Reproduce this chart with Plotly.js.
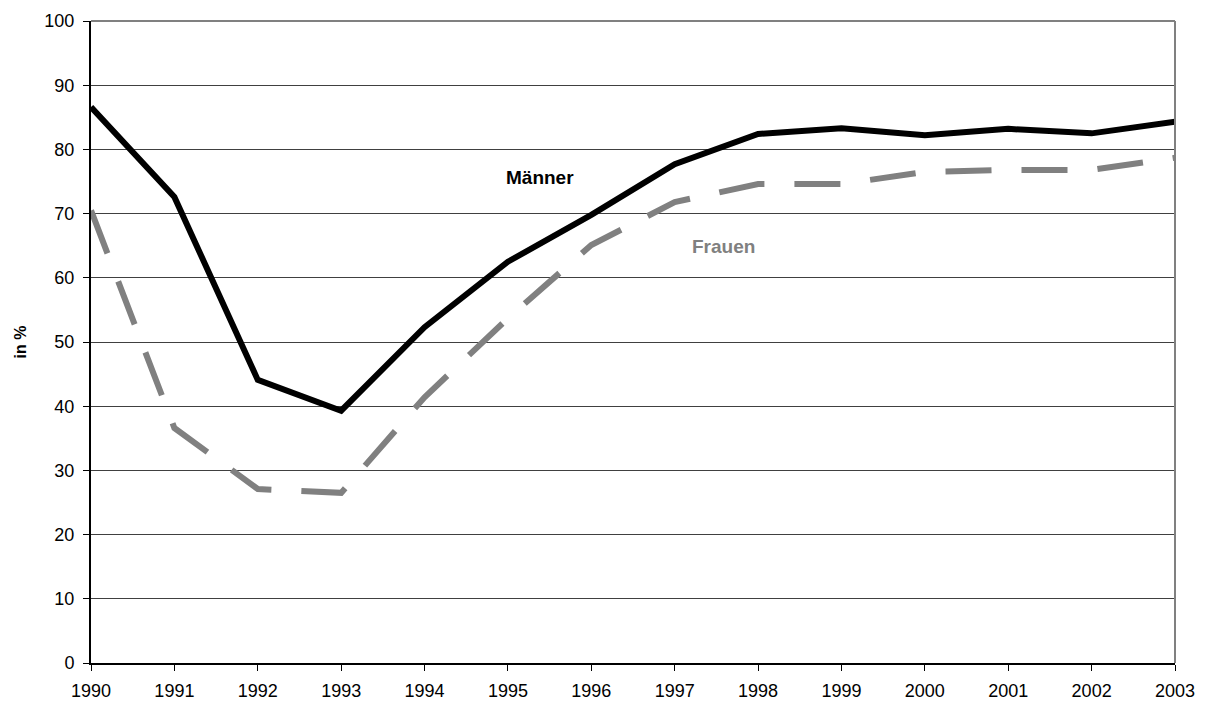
<!DOCTYPE html>
<html>
<head>
<meta charset="utf-8">
<script src="https://cdn.plot.ly/plotly-3.0.1.min.js"></script>
<style>html,body{margin:0;padding:0;background:#fff;}#chart{width:1209px;height:704px;}</style>
</head>
<body>
<div id="chart"></div>
<script>
const years = [1990,1991,1992,1993,1994,1995,1996,1997,1998,1999,2000,2001,2002,2003];
const maenner = [86.6,72.6,44.1,39.3,52.3,62.5,69.8,77.7,82.4,83.3,82.2,83.2,82.5,84.3];
const frauen = [70.5,36.6,27.1,26.5,41.4,53.7,65.1,71.8,74.6,74.6,76.5,76.8,76.8,78.7];
const yTicks = [0,10,20,30,40,50,60,70,80,90,100];

const font = "Liberation Sans, Arial, sans-serif";

const traces = [
  {x: years, y: frauen, mode: 'lines', name: 'Frauen',
   line: {color: '#808080', width: 6, dash: '46px,30px'}},
  {x: years, y: maenner, mode: 'lines', name: 'Männer',
   line: {color: '#000000', width: 6}}
];

const layout = {
  width: 1209, height: 704,
  margin: {l: 91, r: 34, t: 21, b: 41},
  paper_bgcolor: '#fff', plot_bgcolor: '#fff',
  showlegend: false,
  font: {family: font, size: 18, color: '#000'},
  xaxis: {
    range: [1990, 2003], tickvals: years, ticktext: years.map(String),
    showgrid: false, zeroline: false, showline: true, linecolor: '#000', linewidth: 2,
    ticks: 'outside', ticklen: 6, tickcolor: '#000', tickwidth: 1,
    ticklabelstandoff: 4,
    tickfont: {family: font, size: 18, color: '#000'}
  },
  yaxis: {
    range: [0, 100], tickvals: yTicks,
    showgrid: true, gridcolor: '#404040', gridwidth: 1,
    zeroline: false, showline: true, linecolor: '#000', linewidth: 2,
    ticks: 'outside', ticklen: 6, tickcolor: '#000', tickwidth: 1,
    ticklabelstandoff: 5,
    tickfont: {family: font, size: 18, color: '#000'},
    title: {text: '<b>in %</b>', font: {family: font, size: 16, color: '#000'}, standoff: 14}
  },
  shapes: [
    {type: 'line', xref: 'paper', yref: 'paper', x0: 0, x1: 1, y0: 1, y1: 1, line: {color: '#808080', width: 2}},
    {type: 'line', xref: 'paper', yref: 'paper', x0: 1, x1: 1, y0: 0, y1: 1, line: {color: '#808080', width: 2}}
  ],
  annotations: [
    {x: 1995.38, y: 75.7, xref: 'x', yref: 'y', text: '<b>Männer</b>', showarrow: false,
     font: {family: font, size: 19, color: '#000'}},
    {x: 1997.58, y: 64.8, xref: 'x', yref: 'y', text: '<b>Frauen</b>', showarrow: false,
     font: {family: font, size: 19, color: '#808080'}}
  ]
};

Plotly.newPlot('chart', traces, layout, {displayModeBar: false, staticPlot: true});
</script>
</body>
</html>
